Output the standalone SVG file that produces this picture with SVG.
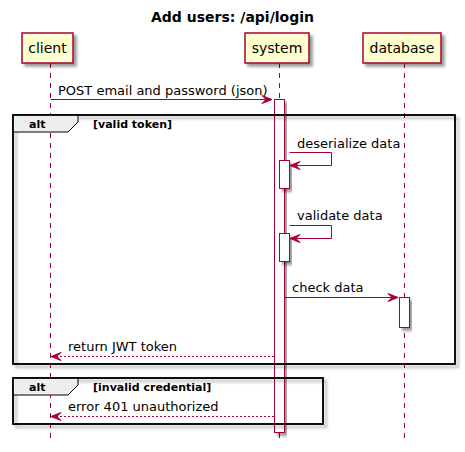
<svg xmlns="http://www.w3.org/2000/svg" width="465" height="452" viewBox="0 0 465 452">
<defs>
<filter id="sh" x="-10%" y="-10%" width="130%" height="130%">
<feGaussianBlur in="SourceAlpha" stdDeviation="1.8" result="b"/>
<feOffset in="b" dx="3" dy="3" result="o"/>
<feComponentTransfer in="o" result="o2"><feFuncA type="linear" slope="0.4"/></feComponentTransfer>
<feMerge><feMergeNode in="o2"/><feMergeNode in="SourceGraphic"/></feMerge>
</filter>
</defs>
<style>
text{font-family:"DejaVu Sans","Liberation Sans",sans-serif;fill:#000}
.title{font-size:14px;font-weight:bold}
.pt{font-size:14px}
.msg{font-size:13px}
.fl{font-size:11px;font-weight:bold}
.pbox{fill:#FEFECE;stroke:#A80036;stroke-width:1.5}
.life{stroke:#A80036;stroke-width:1;stroke-dasharray:5,5;fill:none}
.act{fill:#FFFFFF;stroke:#A80036;stroke-width:1}
.frame{fill:none;stroke:#000;stroke-width:1.5}
.tab{fill:#EEEEEE;stroke:#000;stroke-width:1}
.ln{stroke:#A80036;stroke-width:1;fill:none}
.dash{stroke:#A80036;stroke-width:1;stroke-dasharray:2,2;fill:none}
.ah{fill:#A80036;stroke:#A80036;stroke-width:1}
</style>
<rect width="465" height="452" fill="#FFFFFF"/>
<text class="title" x="232.5" y="22" text-anchor="middle">Add users: /api/login</text>

<g id="lifelines">
<line class="life" x1="50.5" y1="63" x2="50.5" y2="442"/>
<line class="life" x1="279.5" y1="63" x2="279.5" y2="442"/>
<line class="life" x1="404.5" y1="63" x2="404.5" y2="442"/>
</g>

<g id="client"><rect class="pbox" x="22" y="33" width="51" height="30" filter="url(#sh)"/><text class="pt" x="47.5" y="53" text-anchor="middle">client</text></g>
<g id="system"><rect class="pbox" x="245" y="33" width="64" height="30" filter="url(#sh)"/><text class="pt" x="277" y="53" text-anchor="middle">system</text></g>
<g id="database"><rect class="pbox" x="363" y="33" width="78" height="30" filter="url(#sh)"/><text class="pt" x="402" y="53" text-anchor="middle">database</text></g>

<g id="activations">
<rect class="act" x="274.5" y="99.5" width="10" height="333" filter="url(#sh)"/>
<rect class="act" x="279.5" y="160.5" width="10" height="28" filter="url(#sh)"/>
<rect class="act" x="279.5" y="233.5" width="10" height="28" filter="url(#sh)"/>
<rect class="act" x="399.5" y="297.5" width="10" height="30" filter="url(#sh)"/>
</g>

<g id="alt-valid">
<rect class="frame" x="13" y="115" width="442" height="249" filter="url(#sh)"/>
<path class="tab" d="M13,115 H78 V122 L68,132 H13 Z"/>
<rect class="frame" x="13" y="115" width="442" height="249"/>
<text class="fl" x="29" y="128">alt</text>
<text class="fl" x="93" y="128">[valid token]</text>
</g>

<g id="alt-invalid">
<rect class="frame" x="13" y="378" width="310" height="46" filter="url(#sh)"/>
<path class="tab" d="M13,378 H78 V385 L68,395 H13 Z"/>
<rect class="frame" x="13" y="378" width="310" height="46"/>
<text class="fl" x="29" y="391">alt</text>
<text class="fl" x="93" y="391">[invalid credential]</text>
</g>

<g id="connectors">
<line class="ln" x1="50.5" y1="99.5" x2="272" y2="99.5"/>
<polygon class="ah" points="262,95.5 272,99.5 262,103.5 266,99.5"/>
<text class="msg" x="58" y="95">POST email and password (json)</text>

<polyline class="ln" points="289.5,152.5 331.5,152.5 331.5,165.5 290,165.5"/>
<polygon class="ah" points="300,161.5 290,165.5 300,169.5 296,165.5"/>
<text class="msg" x="297" y="148">deserialize data</text>

<polyline class="ln" points="289.5,225.5 331.5,225.5 331.5,238.5 290,238.5"/>
<polygon class="ah" points="300,234.5 290,238.5 300,242.5 296,238.5"/>
<text class="msg" x="297" y="220">validate data</text>

<line class="ln" x1="284.5" y1="297.5" x2="398" y2="297.5"/>
<polygon class="ah" points="388,293.5 398,297.5 388,301.5 392,297.5"/>
<text class="msg" x="292" y="292">check data</text>

<line class="dash" x1="274" y1="356.5" x2="51" y2="356.5"/>
<polygon class="ah" points="61,352.5 51,356.5 61,360.5 57,356.5"/>
<text class="msg" x="68" y="351">return JWT token</text>

<line class="dash" x1="274" y1="416.5" x2="51" y2="416.5"/>
<polygon class="ah" points="61,412.5 51,416.5 61,420.5 57,416.5"/>
<text class="msg" x="68" y="411">error 401 unauthorized</text>
</g>
</svg>
